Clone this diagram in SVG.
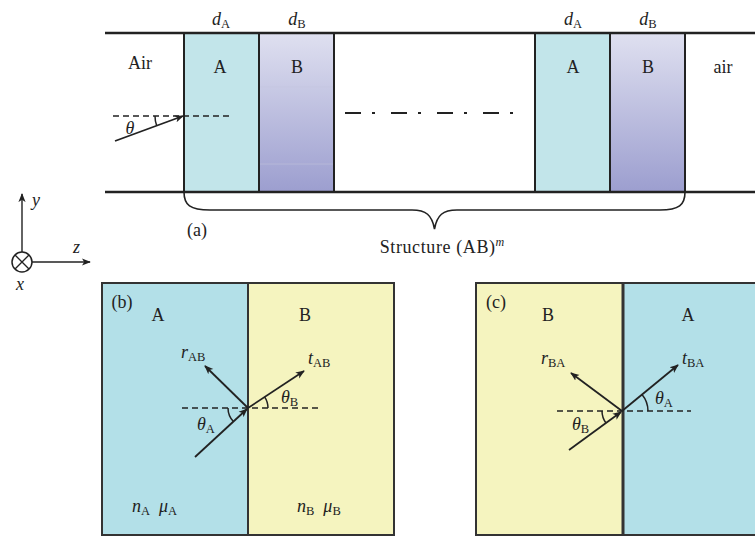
<svg xmlns="http://www.w3.org/2000/svg" width="755" height="536" viewBox="0 0 755 536">
<style>
text{font-family:"Liberation Serif","DejaVu Serif",serif;font-size:18px;fill:#222}
.i{font-style:italic}
.s{font-size:12.5px;font-style:normal}
.ln{stroke:#222;fill:none}
.dash{stroke:#222;stroke-width:1.6;stroke-dasharray:6 4;fill:none}
.ray{stroke:#222;stroke-width:1.8;fill:none;marker-end:url(#ah)}
.arc{stroke:#222;stroke-width:1.5;fill:none}
</style>
<defs>
<linearGradient id="gb" x1="0" y1="0" x2="0" y2="1">
<stop offset="0" stop-color="#dfe0f0"/>
<stop offset="1" stop-color="#9c9ecf"/>
</linearGradient>
<marker id="ah" viewBox="0 0 10 10" refX="9" refY="5" markerWidth="9" markerHeight="9" markerUnits="userSpaceOnUse" orient="auto">
<path d="M0,1 L10,5 L0,9 L2.5,5 z" fill="#222"/>
</marker>
</defs>

<g id="panel-a">
<g id="layerA1"><rect x="184" y="33" width="75" height="159" fill="#c2e5ea" stroke="#222" stroke-width="2"/></g>
<g id="layerB1"><rect x="259" y="33" width="75" height="159" fill="url(#gb)" stroke="#222" stroke-width="2"/>
<line x1="260" y1="87" x2="333" y2="87" stroke="#c4c5df" stroke-width="0.7"/>
<line x1="260" y1="164" x2="333" y2="164" stroke="#bdbedb" stroke-width="0.7"/></g>
<g id="layerA2"><rect x="535" y="33" width="75" height="159" fill="#c2e5ea" stroke="#222" stroke-width="2"/></g>
<g id="layerB2"><rect x="610" y="33" width="75" height="159" fill="url(#gb)" stroke="#222" stroke-width="2"/></g>
<line x1="105" y1="33" x2="755" y2="33" class="ln" stroke-width="2.5"/>
<line x1="105" y1="192" x2="755" y2="192" class="ln" stroke-width="2.5"/>
<text x="221" y="25" text-anchor="middle"><tspan class="i">d</tspan><tspan class="s" dy="3">A</tspan></text>
<text x="297" y="25" text-anchor="middle"><tspan class="i">d</tspan><tspan class="s" dy="3">B</tspan></text>
<text x="573" y="25" text-anchor="middle"><tspan class="i">d</tspan><tspan class="s" dy="3">A</tspan></text>
<text x="648" y="25" text-anchor="middle"><tspan class="i">d</tspan><tspan class="s" dy="3">B</tspan></text>
<text x="140" y="69" text-anchor="middle">Air</text>
<text x="220" y="73" text-anchor="middle">A</text>
<text x="297" y="73" text-anchor="middle">B</text>
<text x="573" y="73" text-anchor="middle">A</text>
<text x="648" y="73" text-anchor="middle">B</text>
<text x="723" y="73" text-anchor="middle">air</text>
<line x1="345" y1="113" x2="520" y2="113" stroke="#222" stroke-width="1.8" stroke-dasharray="16 11 3 16"/>
<path class="dash" d="M113,116 H232"/>
<path class="ray" d="M115,141 L183,116"/>
<path class="arc" d="M155,116 A28,28 0 0 0 156.7,125.7"/>
<text x="130" y="134" text-anchor="middle" class="i">θ</text>
<path class="ln" stroke-width="1.6" d="M184,192 C184,205 190,210 210,210 L412,210 C426,210 432,215 434.5,229 C437,215 443,210 457,210 L660,210 C679,210 685,205 685,192"/>
<text x="197" y="236" text-anchor="middle">(a)</text>
<text x="442" y="253" text-anchor="middle" letter-spacing="0.6">Structure (AB)<tspan class="i" font-size="12" dy="-7" letter-spacing="0">m</tspan></text>
</g>

<g id="axes">
<circle cx="22" cy="262" r="10" class="ln" stroke-width="1.5"/>
<path class="ln" stroke-width="1.4" d="M15,255 L29,269 M29,255 L15,269"/>
<path class="ln" stroke-width="1.4" d="M22,252 V194" marker-end="url(#ah)"/>
<path class="ln" stroke-width="1.4" d="M32,262 H90" marker-end="url(#ah)"/>
<text x="32" y="206" class="i">y</text>
<text x="73" y="253" class="i">z</text>
<text x="16" y="290" class="i">x</text>
</g>

<g id="panel-b">
<rect x="102" y="283" width="146" height="252" fill="#b3e0e8"/>
<rect x="248" y="283" width="146" height="252" fill="#f5f4bf"/>
<rect x="102" y="283" width="292" height="252" fill="none" stroke="#333" stroke-width="2"/>
<line x1="248" y1="283" x2="248" y2="535" stroke="#333" stroke-width="2"/>
<text x="122" y="308" text-anchor="middle">(b)</text>
<text x="158" y="321" text-anchor="middle">A</text>
<text x="305" y="321" text-anchor="middle">B</text>
<path class="dash" d="M182,408 H318"/>
<path class="ray" d="M195,457 L247,409"/>
<path class="ray" d="M248,408 L205,366"/>
<path class="ray" d="M248,408 L304,371"/>
<path class="arc" d="M228,408 A20,20 0 0 0 233.4,421.6"/>
<path class="arc" d="M268,408 A20,20 0 0 0 264.6,396.8"/>
<text x="181" y="358"><tspan class="i">r</tspan><tspan class="s" dy="3">AB</tspan></text>
<text x="308" y="364"><tspan class="i">t</tspan><tspan class="s" dy="3">AB</tspan></text>
<text x="197" y="430"><tspan class="i">θ</tspan><tspan class="s" dy="3">A</tspan></text>
<text x="281" y="403"><tspan class="i">θ</tspan><tspan class="s" dy="3">B</tspan></text>
<text x="132" y="512"><tspan class="i">n</tspan><tspan class="s" dy="3">A</tspan><tspan dy="-3" dx="9" class="i">μ</tspan><tspan class="s" dy="3">A</tspan></text>
<text x="297" y="512"><tspan class="i">n</tspan><tspan class="s" dy="3">B</tspan><tspan dy="-3" dx="9" class="i">μ</tspan><tspan class="s" dy="3">B</tspan></text>
</g>

<g id="panel-c">
<rect x="476" y="283" width="147" height="252" fill="#f5f4bf"/>
<rect x="623" y="283" width="140" height="252" fill="#b3e0e8"/>
<path d="M763,283 H476 V535 H763" fill="none" stroke="#333" stroke-width="2"/>
<line x1="623" y1="283" x2="623" y2="535" stroke="#333" stroke-width="3"/>
<text x="496" y="308" text-anchor="middle">(c)</text>
<text x="548" y="321" text-anchor="middle">B</text>
<text x="688" y="321" text-anchor="middle">A</text>
<path class="dash" d="M557,411 H691"/>
<path class="ray" d="M569,450 L621,412"/>
<path class="ray" d="M622,411 L571,373"/>
<path class="ray" d="M622,411 L678,365"/>
<path class="arc" d="M602,411 A20,20 0 0 0 606,423"/>
<path class="arc" d="M648,411 A26,26 0 0 0 642,394.5"/>
<text x="541" y="364"><tspan class="i">r</tspan><tspan class="s" dy="3">BA</tspan></text>
<text x="682" y="364"><tspan class="i">t</tspan><tspan class="s" dy="3">BA</tspan></text>
<text x="572" y="430"><tspan class="i">θ</tspan><tspan class="s" dy="3">B</tspan></text>
<text x="655" y="404"><tspan class="i">θ</tspan><tspan class="s" dy="3">A</tspan></text>
</g>
</svg>
